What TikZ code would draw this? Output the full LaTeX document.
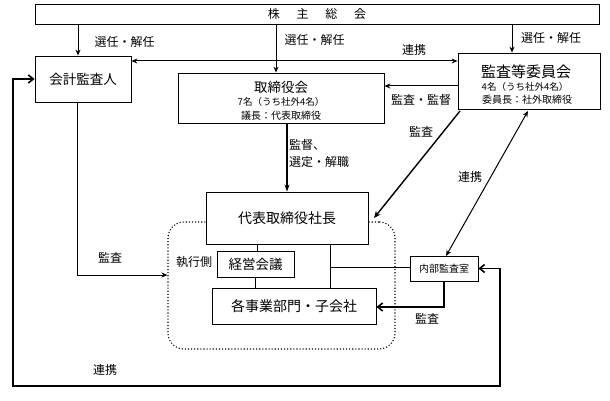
\documentclass[tikz,border=0pt]{standalone}
\usepackage{fontspec}
\setmainfont{Noto Sans CJK JP}
\usetikzlibrary{arrows.meta}
\newcommand{\fsz}[1]{\fontsize{#1}{#1}\selectfont}
\tikzset{
  box/.style={draw, line width=0.8pt, fill=white, inner sep=0pt, align=center},
  txt/.style={inner sep=0pt},
  arr/.style={line width=1pt, -{Stealth[length=6pt,width=5pt]}},
  arrtwo/.style={line width=1pt, {Stealth[length=6pt,width=5pt]}-{Stealth[length=6pt,width=5pt]}},
  openarr/.style={line width=1.6pt, -{Straight Barb[length=5pt,width=8pt]}},
  plain/.style={line width=0.8pt},
  lbl/.style={font=\fsz{12}, inner sep=0pt}
}
\begin{document}
\begin{tikzpicture}[x=1pt,y=-1pt]
\useasboundingbox (0,0) rectangle (610,401);
% executive region
\node[draw, dotted, line width=1.1pt, rounded corners=16pt, minimum width=227pt, minimum height=127pt, inner sep=0pt] (exec) at (281.5,285.5) {};
% boxes
\node[box, minimum width=564pt, minimum height=20pt, font=\fsz{12}] (soukai) at (317,14) {株\hspace{1.4em}主\hspace{1.4em}総\hspace{1.4em}会};
\node[box, minimum width=96pt, minimum height=46pt, font=\fsz{13.5}] (kaikei) at (83,79) {会計監査人};
\node[box, minimum width=206pt, minimum height=50pt] (tori) at (281,98) {};
\node[txt, font=\fsz{13.5}] (torit) at ([yshift=-15pt]tori.north) {取締役会};
\node[txt, font=\fsz{9.5}] (tori2) at ([yshift=-29pt]tori.north) {7名（うち社外4名）};
\node[txt, font=\fsz{10}] (tori3) at ([yshift=-43pt]tori.north) {議長：代表取締役};
\node[box, minimum width=142pt, minimum height=56pt] (iin) at (529,81) {};
\node[txt, font=\fsz{15}] (iint) at ([yshift=-19pt,xshift=-3pt]iin.north) {監査等委員会};
\node[txt, font=\fsz{9.5}] (iin2) at ([yshift=-34pt,xshift=-4pt]iin.north) {4名（うち社外4名）};
\node[txt, font=\fsz{10}] (iin3) at ([yshift=-47pt,xshift=-2pt]iin.north) {委員長：社外取締役};
\node[box, minimum width=162pt, minimum height=52pt, font=\fsz{14}] (daihyo) at (287,218) {代表取締役社長};
\node[box, minimum width=77pt, minimum height=26pt, font=\fsz{13.5}] (keiei) at (255.5,264) {経営会議};
\node[box, minimum width=164pt, minimum height=36pt, font=\fsz{14}] (jigyo) at (294,306) {各事業部門・子会社};
\node[box, minimum width=68pt, minimum height=25pt, font=\fsz{10}] (naibu) at (444,268.5) {内部監査室};
% helper coordinates
\coordinate (xa) at (78,0);
\coordinate (xb) at (276,0);
\coordinate (xc) at (512,0);
\coordinate (yr) at (0,61);
\coordinate (ym) at (0,86);
\coordinate (xd) at (287,0);
\coordinate (xk) at (77,0);
\coordinate (ye) at (0,275);
\coordinate (xe) at (257,0);
\coordinate (xf) at (330,0);
\coordinate (yh) at (0,267);
\coordinate (xn) at (444,0);
\coordinate (yj) at (0,307);
\coordinate (d1) at (460,111);
\coordinate (d2) at (374,218);
\coordinate (e1) at (528,111);
\coordinate (e2) at (446,256);
\coordinate (lpL) at (13,386);
\coordinate (lpR) at (500,386);
% connectors
\draw[arr] (xa |- soukai.south) -- (xa |- kaikei.north);
\draw[arr] (xb |- soukai.south) -- (xb |- tori.north);
\draw[arr] (xc |- soukai.south) -- (xc |- iin.north);
\draw[arrtwo] (kaikei.east |- yr) -- (iin.west |- yr);
\draw[arr] (iin.west |- ym) -- (tori.east |- ym);
\draw[line width=1.3pt, -{Stealth[length=7pt,width=5pt]}] (xd |- tori.south) -- (xd |- daihyo.north);
\draw[line width=1.4pt, -{Stealth[length=7pt,width=6pt]}] (d1) -- (d2);
\draw[line width=1pt, {Stealth[length=6pt,width=5pt]}-{Stealth[length=6pt,width=5pt]}] (e1) -- (e2);
\draw[line width=1pt, -{Stealth[length=6pt,width=5pt]}] (xk |- kaikei.south) |- (exec.west |- ye);
\draw[plain] (xe |- daihyo.south) -- (xe |- keiei.north);
\draw[plain] (keiei.south) -- (keiei.south |- jigyo.north);
\draw[plain] (xf |- daihyo.south) -- (xf |- jigyo.north);
\draw[plain] (xf |- yh) -- (naibu.west |- yh);
\draw[openarr] (xn |- naibu.south) |- (jigyo.east |- yj);
\draw[line width=1.6pt, {Straight Barb[length=5pt,width=8pt]}-{Straight Barb[length=5pt,width=8pt]}] (naibu.east) -| (lpR) -- (lpL) |- (kaikei.west);
% labels
\node[lbl] (l1) at (124.5,42) {選任・解任};
\node[lbl] (l2) at (314.5,40) {選任・解任};
\node[lbl] (l3) at (551,38) {選任・解任};
\node[lbl] (l4) at (414,50) {連携};
\node[lbl] (l5) at (421,100) {監査・監督};
\node[lbl] (l6) at (421,132) {監査};
\node[lbl, anchor=west, align=left, font=\fontsize{12}{17}\selectfont] (l7) at (289,153.5) {監督、\\選定・解職};
\node[lbl] (l8) at (470,177) {連携};
\node[lbl] (l9) at (110,258) {監査};
\node[lbl] (l10) at (194,262) {執行側};
\node[lbl] (l11) at (427,319) {監査};
\node[lbl] (l12) at (105,370) {連携};
\end{tikzpicture}
\end{document}
